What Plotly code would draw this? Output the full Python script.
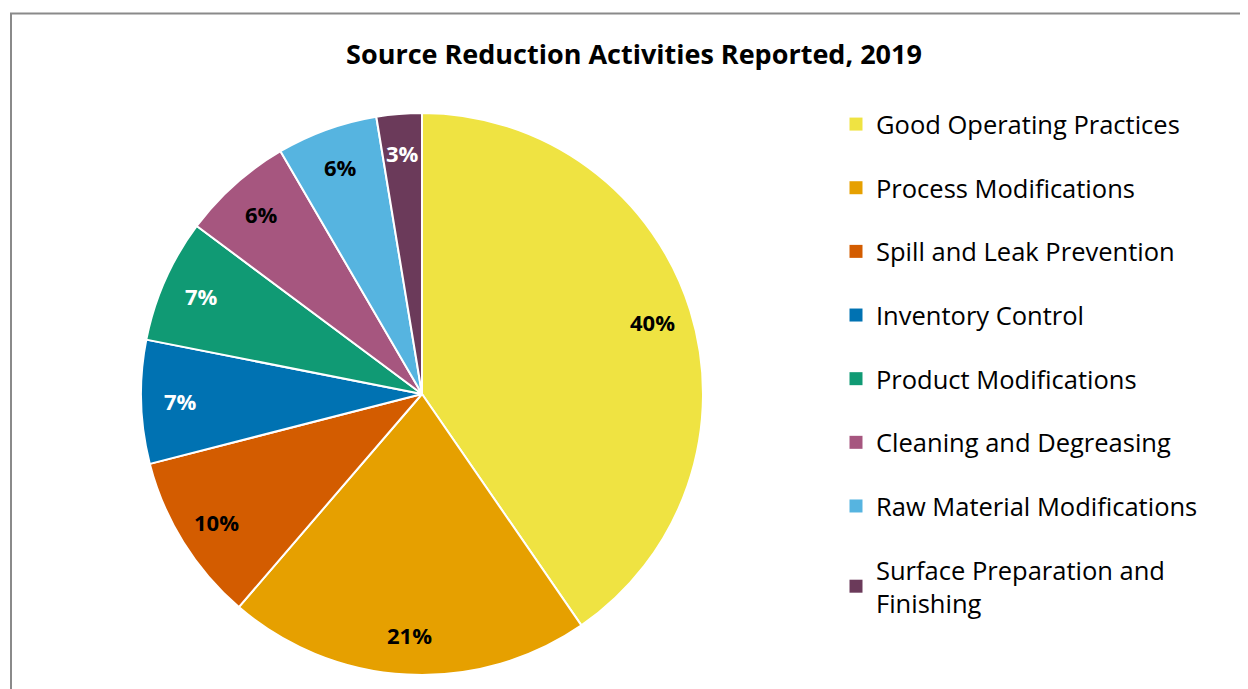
import math
import plotly.graph_objects as go

categories = ["Good Operating Practices", "Process Modifications", "Spill and Leak Prevention",
              "Inventory Control", "Product Modifications", "Cleaning and Degreasing",
              "Raw Material Modifications", "Surface Preparation and Finishing"]
legend_labels = ["Good Operating Practices", "Process Modifications", "Spill and Leak Prevention",
                 "Inventory Control", "Product Modifications", "Cleaning and Degreasing",
                 "Raw Material Modifications", "Surface Preparation and<br>Finishing"]
shares = [40.4, 20.9, 9.7, 7.1, 7.1, 6.4, 5.8, 2.6]
colors = ["#EFE342", "#E6A000", "#D35C00", "#0072B2", "#109A74", "#A6567F", "#56B4E0", "#6B3A5A"]
text_colors = ["black", "black", "black", "white", "white", "black", "black", "white"]

W, H = 1248, 689
FONT = "Open Sans"

# pie placement (figure pixels)
CX, CY, R = 414, 386, 281
LABEL_R = 0.86

fig = go.Figure()
fig.add_trace(go.Pie(
    labels=categories, values=shares, sort=False, direction="clockwise", rotation=0,
    marker=dict(colors=colors, line=dict(color="white", width=2)),
    textinfo="none",
    domain=dict(x=[(CX - R) / W, (CX + R) / W], y=[(H - CY - R) / H, (H - CY + R) / H]),
    showlegend=False, hoverinfo="label+percent",
))

# percentage labels placed on each slice's bisector
total = sum(shares)
cum = 0.0
annotations = []
for v, tc in zip(shares, text_colors):
    mid = (cum + v / 2) / total * 2 * math.pi
    cum += v
    px = CX + LABEL_R * R * math.sin(mid)
    py = CY - LABEL_R * R * math.cos(mid)
    annotations.append(dict(
        x=px / W, y=1 - py / H, xref="paper", yref="paper", showarrow=False,
        text=f"<b>{round(v / total * 100)}%</b>", xanchor="center", yanchor="middle",
        font=dict(family=FONT, size=22, color=tc),
    ))

for i, (lab, col) in enumerate(zip(legend_labels, colors)):
    fig.add_trace(go.Scatter(
        x=[None], y=[None], mode="markers", name=lab, legendgroup=f"g{i}",
        marker=dict(symbol="square", size=13, color=col),
    ))

fig.update_layout(
    width=W, height=H, margin=dict(l=0, r=0, t=0, b=0),
    paper_bgcolor="white", plot_bgcolor="white",
    title=dict(text="<b>Source Reduction Activities Reported, 2019</b>", x=626 / W, xanchor="center",
               y=1 - 47 / H, yanchor="middle", font=dict(family=FONT, size=27, color="black")),
    xaxis=dict(visible=False), yaxis=dict(visible=False),
    legend=dict(x=828 / W, xanchor="left", y=1 - 93 / H, yanchor="top",
                font=dict(family=FONT, size=25.5, color="black"), tracegroupgap=27.5,
                bgcolor="rgba(0,0,0,0)"),
    annotations=annotations,
    shapes=[dict(type="rect", xref="paper", yref="paper", x0=3 / W, x1=1.05,
                 y0=-0.05, y1=1 - 5.5 / H, line=dict(color="#8A8A8A", width=2), layer="above")],
)

fig.write_html("out.html")
